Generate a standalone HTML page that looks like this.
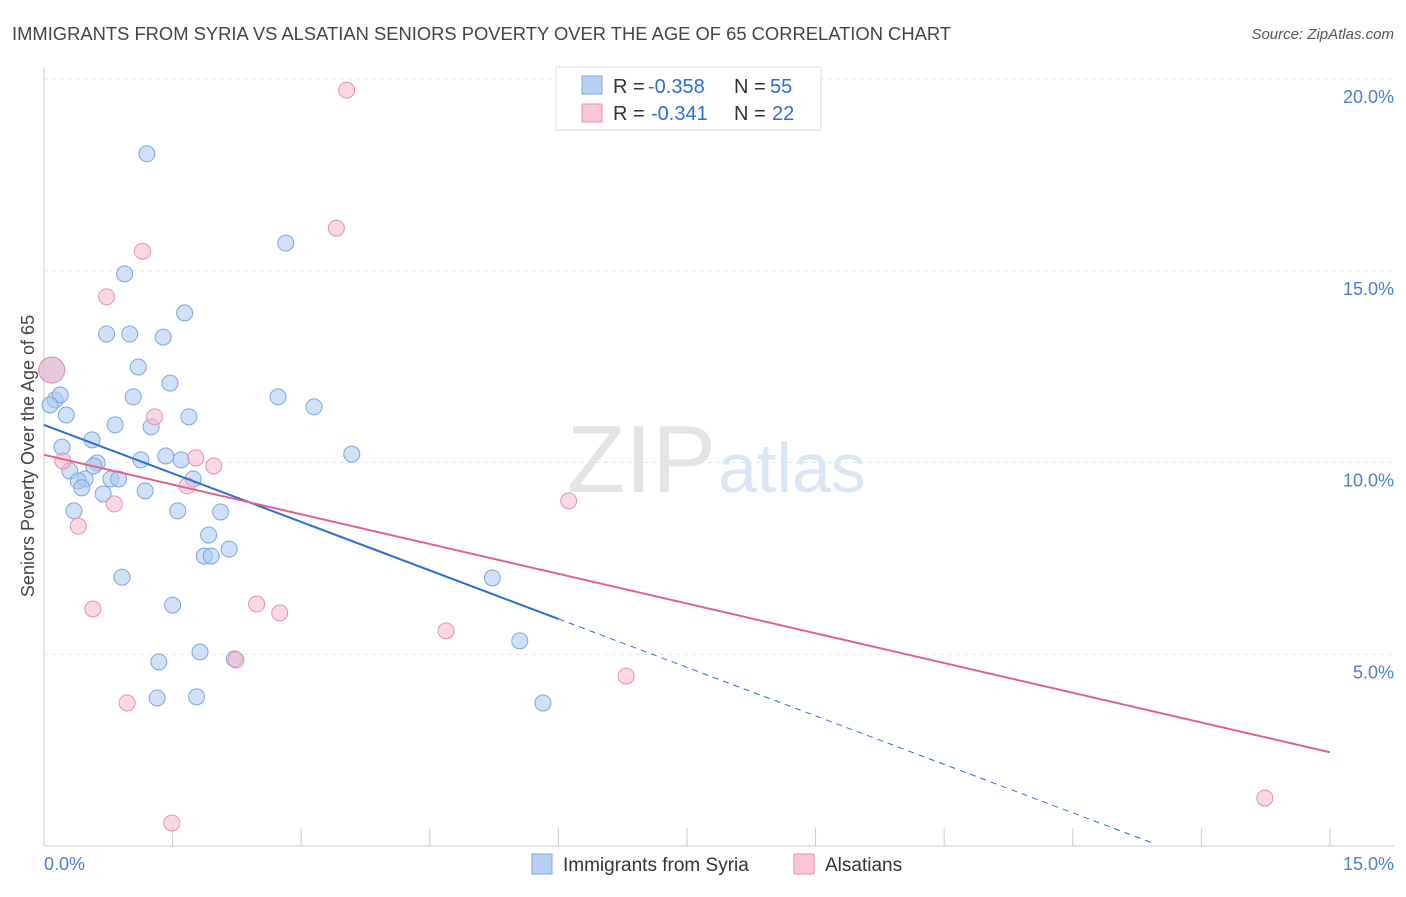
<!DOCTYPE html>
<html><head><meta charset="utf-8">
<style>
body{margin:0;background:#fff;font-family:"Liberation Sans",sans-serif;}
svg text{font-family:"Liberation Sans",sans-serif;}
</style></head>
<body>
<svg id="chart" width="1406" height="892" viewBox="0 0 1406 892" xmlns="http://www.w3.org/2000/svg">
<text x="12" y="40" font-size="18" fill="#444" textLength="939" lengthAdjust="spacingAndGlyphs">IMMIGRANTS FROM SYRIA VS ALSATIAN SENIORS POVERTY OVER THE AGE OF 65 CORRELATION CHART</text>
<text x="1394" y="39" font-size="15" fill="#555" font-style="italic" text-anchor="end">Source: ZipAtlas.com</text>
<g id="grid"></g>
<text x="716" y="492" font-size="96" fill="#e4e4e4" text-anchor="end" font-family="Liberation Serif">ZIP</text>
<text x="718" y="492" font-size="70" fill="#dbe6f5">atlas</text>
<g id="marks"></g>
<text transform="translate(34,456) rotate(-90)" font-size="18" fill="#444" text-anchor="middle">Seniors Poverty Over the Age of 65</text>
<text x="44" y="870" font-size="18" fill="#4a7fd6">0.0%</text>
<text x="1394" y="870" font-size="18" fill="#4a7fd6" text-anchor="end">15.0%</text>
<g>
<rect x="556" y="67" width="265" height="63" fill="#fff" stroke="#ddd"/>
<rect x="582" y="76" width="20" height="18" fill="#b8d1f3" stroke="#7aa7e0"/>
<rect x="582" y="104" width="20" height="18" fill="#f9c6d5" stroke="#e890ad"/>
<text x="613" y="93" font-size="20" fill="#333">R =</text>
<text x="648" y="93" font-size="20" fill="#2a6fd6">-0.358</text>
<text x="734" y="93" font-size="20" fill="#333">N =</text>
<text x="770" y="93" font-size="20" fill="#2a6fd6">55</text>
<text x="613" y="120" font-size="20" fill="#333">R =</text>
<text x="651" y="120" font-size="20" fill="#2a6fd6">-0.341</text>
<text x="734" y="120" font-size="20" fill="#333">N =</text>
<text x="772" y="120" font-size="20" fill="#2a6fd6">22</text>
</g>
<g>
<rect x="532" y="854" width="20" height="20" fill="#b8d1f3" stroke="#7aa7e0"/>
<text x="563" y="871" font-size="19" fill="#333">Immigrants from Syria</text>
<rect x="794" y="854" width="20" height="20" fill="#f9c6d5" stroke="#e890ad"/>
<text x="825" y="871" font-size="19" fill="#333">Alsatians</text>
</g>
</svg>
<script>
const blueX=[1.20,2.82,0.94,1.64,0.73,1.00,1.39,1.10,1.47,1.04,2.73,3.15,0.13,0.19,0.26,0.83,1.25,1.69,0.56,0.21,3.59,1.13,1.42,1.60,0.62,0.30,0.58,0.48,0.40,0.78,0.87,0.44,1.18,0.69,1.74,0.35,1.56,2.06,1.92,2.16,1.87,1.95,0.91,5.23,1.50,5.55,1.82,2.22,1.34,1.32,1.78,5.82,0.09,0.07];
const blueY=[18.05,15.72,14.92,13.90,13.35,13.35,13.27,12.49,12.07,11.71,11.71,11.45,11.63,11.76,11.24,10.98,10.93,11.19,10.59,10.40,10.22,10.07,10.17,10.07,9.99,9.78,9.91,9.57,9.52,9.57,9.57,9.34,9.26,9.18,9.57,8.74,8.74,8.71,8.11,7.74,7.56,7.56,7.01,6.99,6.28,5.35,5.06,4.88,4.80,3.86,3.89,3.73,12.41,11.50];
const pinkX=[3.53,3.41,1.15,0.73,1.29,1.77,1.98,0.22,1.67,0.82,0.40,6.12,0.57,2.48,2.75,4.69,2.24,6.79,0.97,14.24,1.49,0.09];
const pinkY=[19.71,16.11,15.51,14.32,11.19,10.12,9.91,10.04,9.39,8.92,8.34,9.00,6.18,6.31,6.08,5.61,4.85,4.43,3.73,1.25,0.60,12.41];
const yTicks=[5,10,15,20];
const yTickLabels=["5.0%","10.0%","15.0%","20.0%"];
const xTicks=[0,1.5,3,4.5,6,7.5,9,10.5,12,13.5,15];
const blueFit=[10.98,-0.843,6.0,12.96];
const pinkFit=[10.20,-0.517,15];
const NS="http://www.w3.org/2000/svg";
const sx=v=>44+v*85.73, sy=v=>846-v*38.35;
function mk(t,a,p){const e=document.createElementNS(NS,t);for(const k in a)e.setAttribute(k,a[k]);p.appendChild(e);return e;}
const grid=document.getElementById('grid'), marks=document.getElementById('marks');
mk('line',{x1:44,y1:68,x2:44,y2:846,stroke:'#ccc'},grid);
mk('line',{x1:44,y1:846,x2:1394,y2:846,stroke:'#ccc'},grid);
yTicks.forEach((t,i)=>{
 const l=mk('line',{x1:44,y1:sy(t),x2:1394,y2:sy(t),stroke:'#e3e3e3','stroke-dasharray':'4,4'},grid);
 
 
 const tx=mk('text',{x:1394,y:sy(t)+24,'font-size':18,fill:'#4a7fd6','text-anchor':'end'},grid);
 tx.textContent=yTickLabels[i];
 
 
});
xTicks.forEach(t=>{
 const l=mk('line',{x1:sx(t),y1:828,x2:sx(t),y2:846,stroke:'#ccc'},grid);
 
 
});
function dots(X,Y,fill,stroke,name){
 X.forEach((x,i)=>{
  const big=(i===X.length-1&&name==='alsatian-point')||(name==='syria-point'&&i===X.length-2);
  const c=mk('circle',{cx:sx(x),cy:sy(Y[i]),r:big?13:8,fill:fill,'fill-opacity':0.55,stroke:stroke,'stroke-width':1},marks);
  
  
 });
}
dots(blueX,blueY,'#a9c8f0','#7aa7e0','syria-point');
dots(pinkX,pinkY,'#f6b8cb','#e890ad','alsatian-point');
let l=mk('line',{x1:sx(0),y1:sy(blueFit[0]),x2:sx(blueFit[2]),y2:sy(blueFit[0]+blueFit[1]*blueFit[2]),stroke:'#2a6fd6','stroke-width':2},marks);


l=mk('line',{x1:sx(blueFit[2]),y1:sy(blueFit[0]+blueFit[1]*blueFit[2]),x2:sx(blueFit[3]),y2:sy(blueFit[0]+blueFit[1]*blueFit[3]),stroke:'#2a6fd6','stroke-width':1,'stroke-dasharray':'6,5'},marks);


l=mk('line',{x1:sx(0),y1:sy(pinkFit[0]),x2:sx(pinkFit[2]),y2:sy(pinkFit[0]+pinkFit[1]*pinkFit[2]),stroke:'#e0608e','stroke-width':2},marks);


</script>
</body></html>
